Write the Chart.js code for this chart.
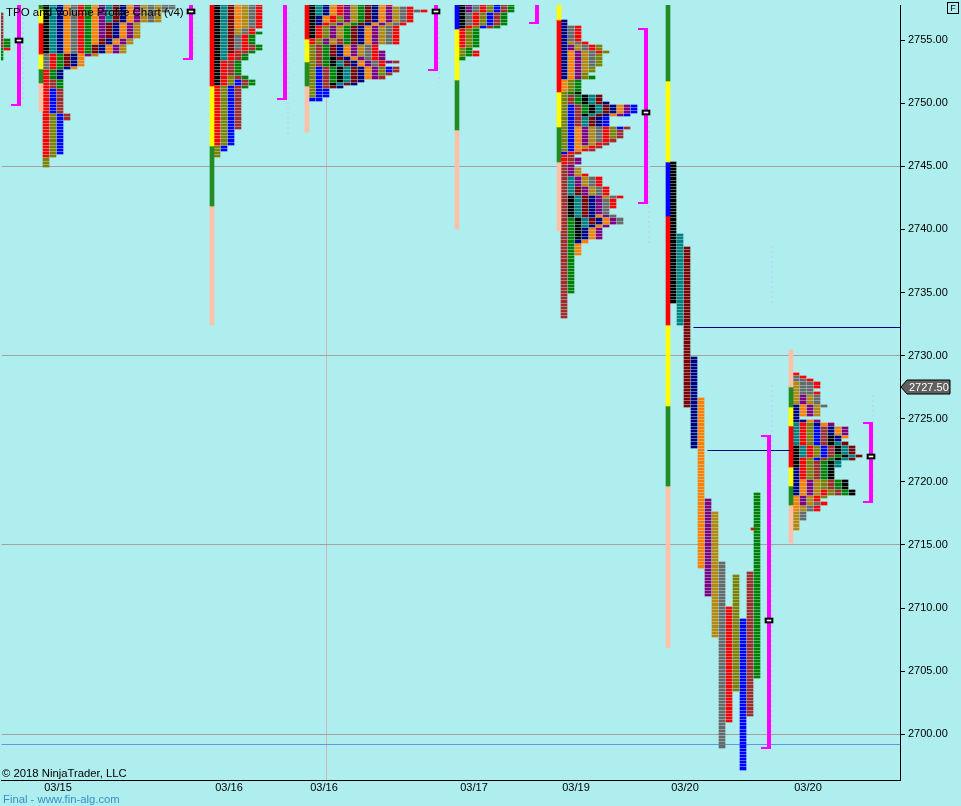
<!DOCTYPE html>
<html>
<head>
<meta charset="utf-8">
<title>TPO and Volume Profile Chart (v4)</title>
<script src="https://cdn.jsdelivr.net/npm/chart.js@4/dist/chart.umd.min.js"></script>
<style>
    html, body { margin: 0; background: #AFEEEE; }
    canvas { display: block; }
</style>
</head>
<body>
<canvas id="tpoChart" width="961" height="806"></canvas>
<script>
const priceTicks = [2700, 2705, 2710, 2715, 2720, 2725, 2730, 2735, 2740, 2745, 2750, 2755];
const dateTicks = [56, 227, 322, 472, 574, 683, 806];
const dateLabels = ['03/15', '03/16', '03/16', '03/17', '03/19', '03/20', '03/20'];
const lastPrice = 2727.5;

// each period: [letter colour key, high, low]
const periods315Stub = [['W', 2757, 2754.5], ['V', 2755, 2753.5], ['R', 2754.25, 2754.25]];
const periods315 = [
    ['K', 2758, 2754], ['T', 2758, 2754], ['N', 2758, 2754], ['O', 2758, 2754], ['Y', 2758, 2752.75],
    ['R', 2758, 2745.75], ['L', 2749, 2745], ['B', 2751, 2746], ['W', 2751.75, 2748.75], ['V', 2758, 2751.25],
    ['O', 2758, 2754.75], ['P', 2758, 2755.25], ['T', 2758, 2756.5], ['M', 2758, 2753], ['N', 2758, 2752],
    ['O', 2758, 2752.75], ['P', 2758, 2753.75], ['G', 2758, 2753.75], ['Y', 2758, 2756.5], ['G', 2758, 2756.5],
    ['Y', 2758, 2757.25], ['Y', 2758, 2757.5]
];
const periods316a = [
    ['K', 2758, 2751.5], ['T', 2758, 2753.5], ['M', 2758, 2754], ['O', 2758, 2756], ['G', 2758, 2755.5],
    ['Y', 2758, 2754.25], ['R', 2758, 2746.75], ['L', 2752, 2745.75], ['B', 2751.75, 2746.25],
    ['W', 2754.5, 2748], ['V', 2755.5, 2751.25]
];
const periods316b = [
    ['K', 2758, 2755.25], ['T', 2758, 2757], ['N', 2758, 2756.25], ['O', 2758, 2756.5], ['R', 2758, 2754.75],
    ['L', 2756.75, 2750.5], ['B', 2752.75, 2750.25], ['B', 2751, 2750.25], ['P', 2758, 2754.75], ['G', 2758, 2754.75],
    ['W', 2755, 2751.25], ['V', 2758, 2751.75], ['K', 2753.5, 2751.5], ['T', 2753.25, 2751.5], ['M', 2758, 2751.25],
    ['N', 2758, 2751.25], ['O', 2758, 2752], ['P', 2757.5, 2752], ['G', 2757.5, 2753.75], ['Y', 2757.5, 2753],
    ['R', 2758, 2753], ['P', 2754, 2753.25], ['W', 2753.25, 2753.25], ['Y', 2757.25, 2757.25], ['R', 2757.25, 2757.25],
    ['L', 2752.75, 2752.25], ['B', 2752.75, 2752.5], ['W', 2752.75, 2752]
];
const periods317 = [
    ['K', 2758, 2756], ['P', 2758, 2757.25], ['Y', 2758, 2756.25], ['R', 2758, 2754.5], ['L', 2758, 2753.75],
    ['B', 2758, 2756], ['W', 2758, 2756], ['V', 2758, 2753.5], ['R', 2754, 2753.75]
];
const periods319 = [
    ['N', 2756.5, 2752], ['O', 2754, 2751], ['P', 2754.5, 2752], ['G', 2754.75, 2752.5], ['Y', 2756, 2753],
    ['R', 2756, 2754], ['L', 2754.5, 2746.25], ['B', 2749.75, 2746], ['W', 2750.5, 2748.25], ['V', 2752, 2749.25],
    ['K', 2750.75, 2749], ['T', 2750.5, 2748.25], ['M', 2750.5, 2748.25], ['N', 2750, 2748.25], ['O', 2749.75, 2749],
    ['P', 2749.75, 2749], ['B', 2749.75, 2748.25], ['O', 2748, 2746.25], ['P', 2748, 2746.75], ['G', 2748, 2746.5],
    ['Y', 2748, 2747], ['R', 2748, 2746.25], ['L', 2748, 2747.25], ['B', 2748, 2748], ['W', 2748, 2746.25],
    ['R', 2746, 2745.25], ['W', 2746, 2733], ['V', 2740.75, 2735], ['K', 2742.5, 2739.25], ['T', 2744, 2740.25],
    ['M', 2743.25, 2740.5], ['N', 2742.5, 2739], ['O', 2741, 2738], ['P', 2745.5, 2739.25], ['G', 2744.75, 2742.5],
    ['Y', 2744, 2740.5], ['R', 2744.25, 2741.75]
];
const periods320Split = [
    ['K', 2745.25, 2734.25], ['T', 2739.5, 2732.5], ['M', 2738.5, 2726], ['N', 2729.75, 2722.75], ['O', 2726.5, 2713.25],
    ['P', 2718.5, 2711], ['G', 2717.5, 2707.75], ['Y', 2713.5, 2699], ['R', 2710, 2701], ['L', 2712.5, 2703.5],
    ['B', 2709, 2697.25], ['W', 2712.75, 2701.5], ['V', 2719, 2704.5]
];
const periods320Spike = [['R', 2716.25, 2716.25]];
const periods320 = [
    ['G', 2727.75, 2726.25], ['K', 2722.75, 2721.25], ['T', 2724.5, 2722], ['N', 2726, 2724.75], ['N', 2721, 2719],
    ['O', 2726, 2725.25], ['O', 2720, 2717.75], ['P', 2726.75, 2725.25], ['P', 2720, 2718.25], ['G', 2726.75, 2725.25],
    ['G', 2720, 2716.25], ['Y', 2728.25, 2726], ['Y', 2718.25, 2717], ['Y', 2728, 2727], ['R', 2728.5, 2727.5],
    ['R', 2727, 2727], ['R', 2724.5, 2720.25], ['R', 2719.25, 2719], ['R', 2718.75, 2717.75], ['L', 2724.5, 2718.75],
    ['B', 2724.25, 2721.75], ['W', 2724.25, 2719], ['V', 2722, 2719], ['K', 2723.5, 2720.25], ['K', 2720, 2719],
    ['T', 2723, 2721.25], ['M', 2723, 2721.75], ['N', 2724.75, 2723.25], ['O', 2724.75, 2723.5], ['P', 2724.75, 2723.75]
];

// session time (in chart units) and its periods, split = one column per period
const sessionTimes = [-7, 39, 210, 305, 455, 557, 666, 747, 789];
const sessionPeriods = [periods315Stub, periods315, periods316a, periods316b, periods317, periods319, periods320Split, periods320Spike, periods320];
const sessionSplit = [false, false, false, false, false, false, true, false, false];

// range bars drawn left of each profile: [key, high, low]
const rangeTimes = [39, 210, 305, 455, 557, 666, 789];
const rangeSegments = [
    [['f', 2758, 2757.48], ['y', 2757.48, 2756.37], ['r', 2756.37, 2753.92], ['y', 2753.92, 2752.73], ['f', 2752.73, 2751.62], ['p', 2751.62, 2749.41]],
    [['r', 2758, 2751.38], ['y', 2751.38, 2746.64], ['f', 2746.64, 2741.89], ['p', 2741.89, 2732.4]],
    [['r', 2758, 2755.1], ['y', 2755.1, 2753.28], ['f', 2753.28, 2751.38], ['p', 2751.38, 2747.75]],
    [['b', 2758, 2755.9], ['y', 2755.9, 2751.86], ['f', 2751.86, 2747.9], ['p', 2747.9, 2740]],
    [['y', 2758, 2756.6], ['r', 2756.6, 2750.9], ['y', 2750.9, 2748.14], ['f', 2748.14, 2745.37], ['p', 2745.37, 2739.9]],
    [['f', 2758, 2751.78], ['y', 2751.78, 2745.37], ['b', 2745.37, 2741.1], ['r', 2741.1, 2732.4], ['y', 2732.4, 2725.99], ['f', 2725.99, 2719.66], ['p', 2719.66, 2706.84]],
    [['p', 2730.42, 2727.5], ['f', 2727.5, 2725.9], ['y', 2725.9, 2724.4], ['r', 2724.4, 2721.16], ['y', 2721.16, 2719.66], ['f', 2719.66, 2718.16], ['p', 2718.16, 2715.15]]
];

// brackets: time, high, low, point of control (null when it is off the chart)
const bracketTimes = [17, 189, 283, 434, 535, 644, 767, 869];
const bracketHighs = [2758, 2758, 2758, 2758, 2758, 2755.9, 2723.6, 2724.65];
const bracketLows = [2749.88, 2753.52, 2750.36, 2752.65, 2756.37, 2742.13, 2698.93, 2718.4];
const pocPrices = [2755, 2757.28, null, 2757.28, null, 2749.29, 2709, 2722];

// faint volume ticks right of the brackets: [time, high, low]
const volumeRanges = [
    [21, 2758, 2750.2], [192, 2758, 2753.75], [286, 2758, 2747.35], [437, 2758, 2751.6], [537, 2758, 2755.9],
    [647, 2749, 2738.9], [770, 2738.7, 2734], [770, 2727.65, 2707.5], [770, 2707.5, 2699.6], [871, 2726.85, 2718.15]
];

const grayLevels = [2745, 2730, 2715, 2700];
const blueLevels = [2699.18];
const navySegments = [[691, 898, 2732.2], [705, 788, 2722.46]];
const cursorTime = 324;

const priceMin = 2696.38;
const priceMax = 2757.78;
const columnWidth = 7;
const rowHalf = 0.125;

const periodColors = {
    K: '#000000', T: '#008080', M: '#800000', N: '#000080', O: '#FF7F00', P: '#800080', G: '#B8860B',
    Y: '#696969', R: '#FF0000', L: '#808000', B: '#0000FF', W: '#A52A2A', V: '#008000'
};
const rangeColors = { f: '#228B22', y: '#FFFF00', r: '#FF0000', p: '#FFC0A8', b: '#0000FF' };

function buildCells() {
    const cells = {};
    sessionPeriods.forEach((periods, s) => {
        const counts = {};
        periods.forEach((period, index) => {
            const [key, high, low] = period;
            for (let p = high; p >= low; p -= 0.25) {
                if (p > priceMax) continue;
                const row = p.toFixed(2);
                const col = sessionSplit[s] ? index : (counts[row] || 0);
                counts[row] = (counts[row] || 0) + 1;
                if (!cells[key]) cells[key] = [];
                cells[key].push({ x: sessionTimes[s] + 5 + col * columnWidth, y: [p - rowHalf, p + rowHalf] });
            }
        });
    });
    return cells;
}

function lineSet(points, color, width, order, dash) {
    return {
        type: 'line', data: points, borderColor: color, borderWidth: width, pointRadius: 0,
        borderDash: dash || [], order: order, fill: false, tension: 0
    };
}

const datasets = [];

grayLevels.forEach(level => {
    datasets.push(lineSet([{ x: -1, y: level }, { x: 898, y: level }], '#A6A0A0', 1, 20));
});
blueLevels.forEach(level => {
    datasets.push(lineSet([{ x: -1, y: level }, { x: 898, y: level }], '#6495ED', 1, 20));
});
datasets.push(lineSet([{ x: cursorTime, y: priceMin }, { x: cursorTime, y: priceMax }], '#CDB4BA', 1, 20));
navySegments.forEach(seg => {
    datasets.push(lineSet([{ x: seg[0], y: seg[2] }, { x: seg[1], y: seg[2] }], '#000080', 1, 6));
});
volumeRanges.forEach(v => {
    datasets.push(lineSet([{ x: v[0], y: v[1] }, { x: v[0], y: v[2] }], '#BCD8F6', 2, 19, [2, 3]));
});

const cells = buildCells();
Object.keys(cells).forEach(key => {
    datasets.push({ data: cells[key], backgroundColor: periodColors[key], barThickness: 6, order: 8, rowGap: true });
});

rangeTimes.forEach((time, i) => {
    rangeSegments[i].forEach(seg => {
        datasets.push({
            data: [{ x: time, y: [seg[2], Math.min(seg[1], priceMax)] }],
            backgroundColor: rangeColors[seg[0]], barThickness: 4, order: 7
        });
    });
});

bracketTimes.forEach((time, i) => {
    datasets.push(lineSet([{ x: time, y: bracketHighs[i] }, { x: time, y: bracketLows[i] }], '#FF00FF', 4, 5));
    datasets.push(lineSet([{ x: time - 8, y: bracketLows[i] }, { x: time + 2, y: bracketLows[i] }], '#FF00FF', 2, 5));
    if (bracketHighs[i] < priceMax) {
        datasets.push(lineSet([{ x: time - 8, y: bracketHighs[i] }, { x: time + 2, y: bracketHighs[i] }], '#FF00FF', 2, 5));
    }
    if (pocPrices[i] !== null) {
        datasets.push({ data: [{ x: time, y: [pocPrices[i] - 0.2, pocPrices[i] + 0.2] }], backgroundColor: '#000000', barThickness: 8, order: 2 });
        datasets.push({ data: [{ x: time, y: [pocPrices[i] - 0.04, pocPrices[i] + 0.04] }], backgroundColor: '#FFFFFF', barThickness: 4, order: 1 });
    }
});

// snap everything to whole pixels, the original has no antialiased edges
const snapMarks = {
    id: 'snapMarks',
    beforeDatasetsDraw(chart) {
        chart.getSortedVisibleDatasetMetas().forEach(meta => {
            if (meta.type === 'bar') {
                const gap = chart.data.datasets[meta.index].rowGap ? 1 : 0;
                meta.data.forEach(el => {
                    el.x = Math.round(el.x);
                    el.y = Math.round(el.y);
                    el.base = Math.round(el.base) - gap;
                });
            } else {
                const offset = meta.dataset.options.borderWidth % 2 ? 0.5 : 0;
                meta.data.forEach(el => {
                    el.x = Math.round(el.x - offset) + offset;
                    el.y = Math.round(el.y - offset) + offset;
                });
            }
        });
    }
};

const overlayText = {
    id: 'overlayText',
    afterDraw(chart) {
        const ctx = chart.ctx;
        ctx.save();
        ctx.textBaseline = 'alphabetic';
        ctx.textAlign = 'left';
        ctx.fillStyle = '#000000';
        ctx.font = '11.5px "Liberation Sans"';
        ctx.fillText('TPO and Volume Profile Chart (v4)', 6, 16);
        ctx.font = '11.3px "Liberation Sans"';
        ctx.fillText('\u00A9 2018 NinjaTrader, LLC', 2, 777);
        ctx.fillStyle = '#3A8FC8';
        ctx.font = '11.3px "Liberation Sans"';
        ctx.fillText('Final - www.fin-alg.com', 3, 803);

        // F button
        ctx.strokeStyle = '#000000';
        ctx.lineWidth = 1;
        ctx.strokeRect(947.5, 2.5, 11, 11);
        ctx.fillStyle = '#000000';
        ctx.font = '9px "Liberation Sans"';
        ctx.textAlign = 'center';
        ctx.fillText('F', 953, 11);

        // last price tag
        const y = Math.round(chart.scales.y.getPixelForValue(lastPrice));
        ctx.beginPath();
        ctx.moveTo(901, y);
        ctx.lineTo(907, y - 7);
        ctx.lineTo(950, y - 7);
        ctx.lineTo(950, y + 7);
        ctx.lineTo(907, y + 7);
        ctx.closePath();
        ctx.fillStyle = '#606060';
        ctx.fill();
        ctx.strokeStyle = '#000000';
        ctx.stroke();
        ctx.fillStyle = '#FFFFFF';
        ctx.font = '11px "Liberation Sans"';
        ctx.textAlign = 'left';
        ctx.fillText(lastPrice.toFixed(2), 909, y + 4);
        ctx.restore();
    }
};

new Chart(document.getElementById('tpoChart').getContext('2d'), {
    type: 'bar',
    data: { datasets: datasets },
    plugins: [snapMarks, overlayText],
    options: {
        responsive: false,
        animation: false,
        parsing: { xAxisKey: 'x', yAxisKey: 'y' },
        grouped: false,
        layout: { padding: { left: 1, top: 5, right: 0, bottom: 0 } },
        plugins: { legend: { display: false }, tooltip: { enabled: false }, title: { display: false } },
        elements: { bar: { borderWidth: 0, borderSkipped: false } },
        scales: {
            x: {
                type: 'linear',
                min: -1,
                max: 898,
                offset: false,
                afterBuildTicks: scale => { scale.ticks = dateTicks.map(v => ({ value: v })); },
                afterFit: scale => { scale.height = 26; scale.paddingLeft = 0; scale.paddingRight = 0; },
                border: { color: '#000000', width: 1 },
                grid: { drawOnChartArea: false, drawTicks: false },
                ticks: {
                    autoSkip: false,
                    maxRotation: 0,
                    padding: 1,
                    color: '#000000',
                    font: { family: 'Liberation Sans', size: 11 },
                    callback: value => dateLabels[dateTicks.indexOf(value)]
                }
            },
            y: {
                type: 'linear',
                position: 'right',
                min: priceMin,
                max: priceMax,
                afterBuildTicks: scale => { scale.ticks = priceTicks.map(v => ({ value: v })); },
                afterFit: scale => { scale.width = 61; scale.paddingTop = 0; scale.paddingBottom = 0; },
                border: { color: '#000000', width: 1 },
                grid: { drawOnChartArea: false, color: '#000000', tickLength: 5 },
                ticks: {
                    padding: 3,
                    color: '#000000',
                    font: { family: 'Liberation Sans', size: 11 },
                    callback: value => value.toFixed(2)
                }
            }
        }
    }
});
</script>
</body>
</html>
